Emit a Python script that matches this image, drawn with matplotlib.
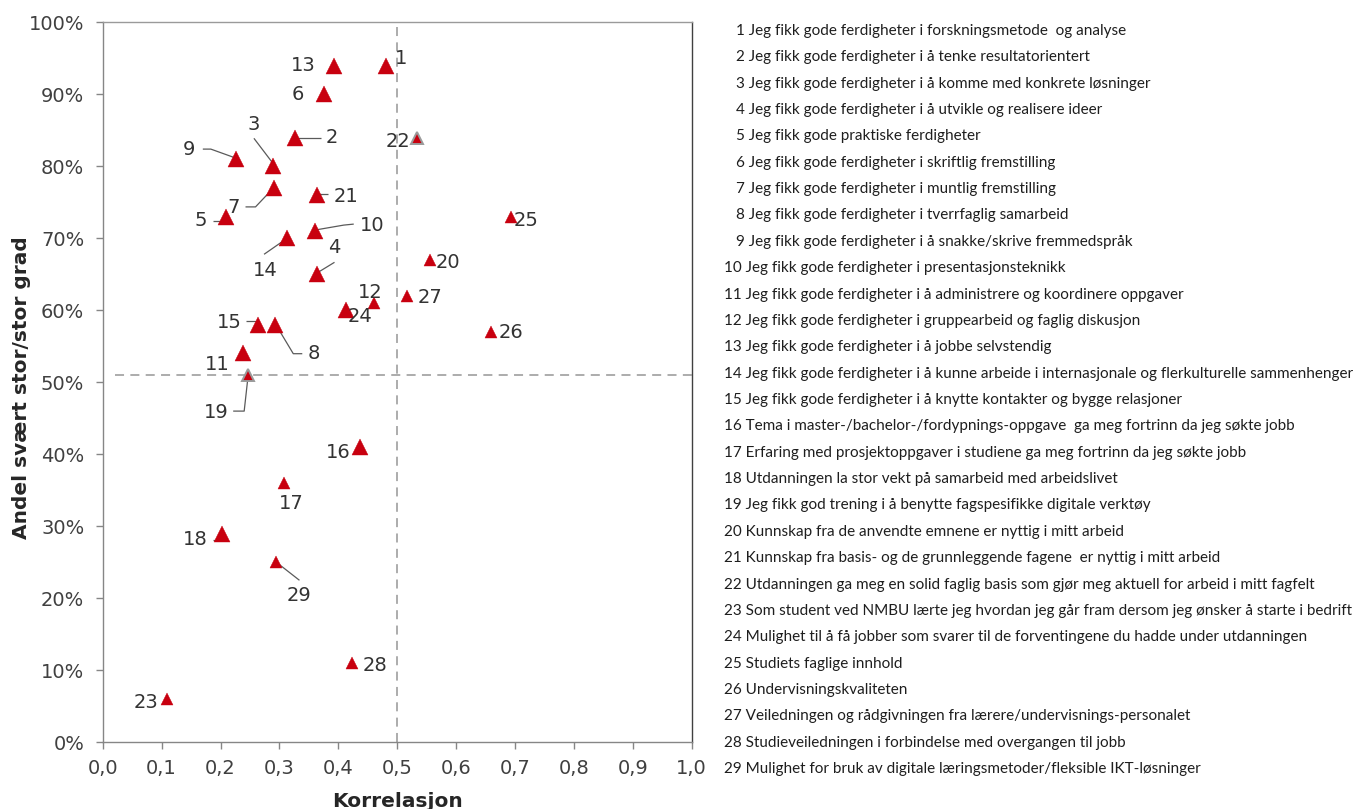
import matplotlib
matplotlib.use("Agg")
import matplotlib.pyplot as plt
from matplotlib import font_manager
from matplotlib.ticker import FuncFormatter, FixedLocator
import numpy as np

# ---- data -------------------------------------------------------------
item_ids = list(range(1, 30))

correlation = [0.481, 0.327, 0.289, 0.363, 0.209, 0.376, 0.290, 0.293, 0.226, 0.360,
               0.239, 0.461, 0.393, 0.313, 0.264, 0.436, 0.308, 0.203, 0.247, 0.556,
               0.364, 0.533, 0.109, 0.413, 0.694, 0.660, 0.517, 0.424, 0.295]

share_high = [0.94, 0.84, 0.80, 0.65, 0.73, 0.90, 0.77, 0.58, 0.81, 0.71,
              0.54, 0.61, 0.94, 0.70, 0.58, 0.41, 0.36, 0.29, 0.51, 0.67,
              0.76, 0.84, 0.06, 0.60, 0.73, 0.57, 0.62, 0.11, 0.25]

statements = [
    "Jeg fikk gode ferdigheter i forskningsmetode  og analyse",
    "Jeg fikk gode ferdigheter i å tenke resultatorientert",
    "Jeg fikk gode ferdigheter i å komme med konkrete løsninger",
    "Jeg fikk gode ferdigheter i å utvikle og realisere ideer",
    "Jeg fikk gode praktiske ferdigheter",
    "Jeg fikk gode ferdigheter i skriftlig fremstilling",
    "Jeg fikk gode ferdigheter i muntlig fremstilling",
    "Jeg fikk gode ferdigheter i tverrfaglig samarbeid",
    "Jeg fikk gode ferdigheter i å snakke/skrive fremmedspråk",
    "Jeg fikk gode ferdigheter i presentasjonsteknikk",
    "Jeg fikk gode ferdigheter i å administrere og koordinere oppgaver",
    "Jeg fikk gode ferdigheter i gruppearbeid og faglig diskusjon",
    "Jeg fikk gode ferdigheter i å jobbe selvstendig",
    "Jeg fikk gode ferdigheter i å kunne arbeide i internasjonale og flerkulturelle sammenhenger",
    "Jeg fikk gode ferdigheter i å knytte kontakter og bygge relasjoner",
    "Tema i master-/bachelor-/fordypnings-oppgave  ga meg fortrinn da jeg søkte jobb",
    "Erfaring med prosjektoppgaver i studiene ga meg fortrinn da jeg søkte jobb",
    "Utdanningen la stor vekt på samarbeid med arbeidslivet",
    "Jeg fikk god trening i å benytte fagspesifikke digitale verktøy",
    "Kunnskap fra de anvendte emnene er nyttig i mitt arbeid",
    "Kunnskap fra basis- og de grunnleggende fagene  er nyttig i mitt arbeid",
    "Utdanningen ga meg en solid faglig basis som gjør meg aktuell for arbeid i mitt fagfelt",
    "Som student ved NMBU lærte jeg hvordan jeg går fram dersom jeg ønsker å starte i bedrift",
    "Mulighet til å få jobber som svarer til de forventingene du hadde under utdanningen",
    "Studiets faglige innhold",
    "Undervisningskvaliteten",
    "Veiledningen og rådgivningen fra lærere/undervisnings-personalet",
    "Studieveiledningen i forbindelse med overgangen til jobb",
    "Mulighet for bruk av digitale læringsmetoder/fleksible IKT-løsninger",
]

x_ticks = [0.0, 0.1, 0.2, 0.3, 0.4, 0.5, 0.6, 0.7, 0.8, 0.9, 1.0]
y_ticks = [0.0, 0.1, 0.2, 0.3, 0.4, 0.5, 0.6, 0.7, 0.8, 0.9, 1.0]
ref_correlation = 0.50
ref_share = 0.51

x_title = "Korrelasjon"
y_title = "Andel svært stor/stor grad"

# ---- styling / layout -------------------------------------------------
W, H = 1370, 809
RED = "#C8000F"
TXT = "#404040"
LEAD = "#5a5a5a"
MAIN_FONT = "DejaVu Sans"
plt.rcParams["font.family"] = [MAIN_FONT]

small_markers = {12, 17, 19, 20, 22, 23, 25, 26, 27, 28, 29}
outlined = {19, 22}

# label offsets in pixels from the marker centre (x right, y up)
label_offset = {
    1: (15, 7), 13: (-31, 0), 6: (-26, 0), 2: (37, 0), 22: (-19, -4),
    3: (-19, 42), 9: (-47, 10), 7: (-40, -20), 21: (29, -1), 5: (-25, -4),
    10: (57, 6), 14: (-22, -32), 4: (18, 27), 12: (-4, 11), 24: (14, -6),
    27: (23, -2), 15: (-29, 2), 8: (39, -29), 11: (-26, -11), 19: (-32, -37),
    16: (-21, -5), 17: (7, -20), 20: (18, -3), 26: (20, -1), 25: (15, -4),
    18: (-27, -6), 29: (23, -33), 28: (23, -2), 23: (-21, -3),
}

# leader line vertices in pixels relative to the marker centre
leaders = {
    2: [(2, 0), (26, 0)],
    3: [(-19, 28), (0, 3)],
    9: [(-33, 10), (-25, 10), (0, 1)],
    7: [(-28, -19), (-18, -19), (0, 0)],
    21: [(0, 1), (11, 1)],
    5: [(-13, -4), (0, -4)],
    10: [(0, 1), (29, 6), (39, 7)],
    14: [(-23, -16), (0, 0)],
    4: [(18, 12), (0, 1)],
    15: [(-12, 4), (0, 4)],
    8: [(0, 1), (18, -29), (27, -29)],
    19: [(-15, -36), (-4, -36), (0, 0)],
    18: [(-9, -6), (0, -6)],
    29: [(0, 0), (23, -18)],
}

fig = plt.figure(figsize=(W / 100, H / 100), dpi=100)
ax_left, ax_right, ax_top, ax_bottom = 102.7, 691.7, 22.3, 742.3
ax = fig.add_axes([ax_left / W, 1 - ax_bottom / H,
                   (ax_right - ax_left) / W, (ax_bottom - ax_top) / H])

ax.set_xlim(0, 1)
ax.set_ylim(0, 1)

for side in ("left", "bottom"):
    ax.spines[side].set_color("#868686")
    ax.spines[side].set_linewidth(1.0)
ax.spines["top"].set_color("#9a9a9a")
ax.spines["top"].set_linewidth(1.0)
ax.spines["right"].set_color("#404040")
ax.spines["right"].set_linewidth(1.0)

ax.xaxis.set_major_locator(FixedLocator(x_ticks))
ax.yaxis.set_major_locator(FixedLocator(y_ticks))
ax.xaxis.set_major_formatter(FuncFormatter(lambda v, p: f"{v:.1f}".replace(".", ",")))
ax.yaxis.set_major_formatter(FuncFormatter(lambda v, p: f"{int(round(v * 100))}%"))
ax.tick_params(axis="both", direction="out", length=5.2, width=1.0, color="#868686",
               labelsize=14, labelcolor=TXT, labelfontfamily=MAIN_FONT)
ax.tick_params(axis="x", pad=7)
ax.tick_params(axis="y", pad=8)

# reference lines
ax.axvline(ref_correlation, ymin=0, ymax=0.996, color="#a6a6a6", lw=1.3,
           ls=(0, (5, 3.5)), zorder=1)
ax.axhline(ref_share, xmin=0.021, xmax=1.0, color="#a6a6a6", lw=1.3,
           ls=(0, (5, 3.5)), zorder=1)

# leader lines
to_data = ax.transData.inverted()
for i, pts in leaders.items():
    x, y = correlation[i - 1], share_high[i - 1]
    cx, cy = ax.transData.transform((x, y))
    disp = np.array([(cx + dx, cy + dy) for dx, dy in pts])
    dat = to_data.transform(disp)
    ax.plot(dat[:, 0], dat[:, 1], color=LEAD, lw=0.9, zorder=2, solid_capstyle="butt")

# markers and labels
for i, x, y in zip(item_ids, correlation, share_high):
    ms = 9.2 if i in small_markers else 11.0
    if i in outlined:
        ax.plot(x, y, marker="^", ms=ms, color=RED, mec="#9a9a9a", mew=1.4,
                ls="none", zorder=3)
    else:
        ax.plot(x, y, marker="^", ms=ms, color=RED, mec=RED, mew=0.3,
                ls="none", zorder=3)
    dx, dy = label_offset[i]
    ax.annotate(str(i), xy=(x, y), xytext=(dx, dy), textcoords="offset pixels",
                ha="center", va="center", fontsize=14, color="#333333", zorder=4,
                family=MAIN_FONT)

# axis titles
fig.text(397.2 / W, 1 - 801.7 / H, x_title, ha="center", va="center",
         fontsize=14.5, fontweight="bold", color="#262626", family=MAIN_FONT)
fig.text(22 / W, 1 - 388 / H, y_title, ha="center", va="center", rotation=90,
         fontsize=14.5, fontweight="bold", color="#262626", family=MAIN_FONT)

# statement list on the right
names = {f.name for f in font_manager.fontManager.ttflist}
list_font = next((f for f in ("Liberation Sans Narrow", "Lato", "Liberation Sans")
                  if f in names), "DejaVu Sans")
row_texts = [f"{i} {s}" for i, s in zip(item_ids, statements)]

probe = fig.text(0, 0, row_texts[13], fontsize=10, family=list_font)
renderer = fig.canvas.get_renderer()
w10 = probe.get_window_extent(renderer).width
probe.remove()
list_size = 10 * (1352 - 724) / w10

row_top, row_bottom = 31.0, 769.0
step = (row_bottom - row_top) / (len(row_texts) - 1)
for k, (i, t) in enumerate(zip(item_ids, row_texts)):
    x0 = 736 if i < 10 else 724
    yc = row_top + k * step
    fig.text(x0 / W, 1 - yc / H, t, ha="left", va="center", fontsize=list_size,
             family=list_font, color="#1e1e1e")

fig.savefig("out.png", dpi=100, facecolor="white")
